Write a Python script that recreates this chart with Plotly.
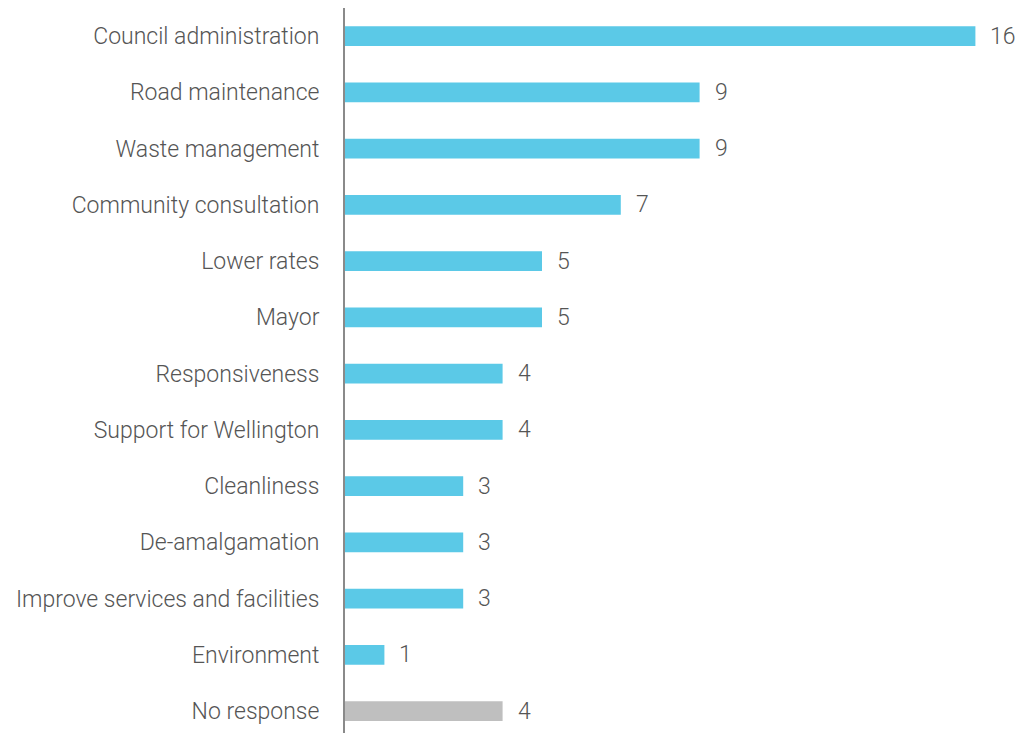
import plotly.graph_objects as go

categories = [
    "Council administration",
    "Road maintenance",
    "Waste management",
    "Community consultation",
    "Lower rates",
    "Mayor",
    "Responsiveness",
    "Support for Wellington",
    "Cleanliness",
    "De-amalgamation",
    "Improve services and facilities",
    "Environment",
    "No response",
]
counts = [16, 9, 9, 7, 5, 5, 4, 4, 3, 3, 3, 1, 4]

BLUE = "#5BC9E7"
GREY = "#BFBFBF"
TEXT = "#555555"
FONT = "Roboto"
SIZE = 23

bar_colors = [GREY if c == "No response" else BLUE for c in categories]

fig = go.Figure(
    go.Bar(
        x=counts,
        y=categories,
        orientation="h",
        marker=dict(color=bar_colors, line=dict(width=0)),
        width=0.35,
        hoverinfo="skip",
    )
)

# value labels just past the end of each bar
for cat, val in zip(categories, counts):
    fig.add_annotation(
        x=val, y=cat, text=str(val), showarrow=False,
        xanchor="left", yanchor="middle", xshift=13,
        font=dict(family=FONT, size=SIZE, color=TEXT, weight=300),
    )

fig.update_layout(
    width=1021,
    height=733,
    margin=dict(l=345, r=0, t=8, b=0),
    paper_bgcolor="white",
    plot_bgcolor="white",
    showlegend=False,
    font=dict(family=FONT, size=SIZE, color=TEXT, weight=300),
)
fig.update_xaxes(
    range=[0, 676 / 39.4],
    visible=False,
    showgrid=False,
    zeroline=False,
)
fig.update_yaxes(
    categoryorder="array",
    categoryarray=categories,
    range=[12.39, -0.5],
    showline=True,
    linecolor="#8a8a8a",
    linewidth=2,
    showgrid=False,
    zeroline=False,
    ticks="",
    ticklabelstandoff=19,
    tickfont=dict(family=FONT, size=SIZE, color=TEXT, weight=300),
)

fig.write_html("out.html")
